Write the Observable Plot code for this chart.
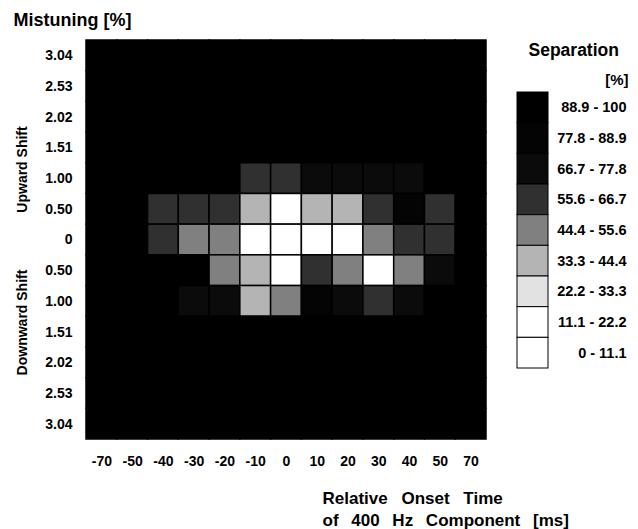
<!DOCTYPE html>
<html>
<head>
<meta charset="utf-8">
<script src="https://cdn.jsdelivr.net/npm/d3@7"></script>
<script src="https://cdn.jsdelivr.net/npm/@observablehq/plot@0.6"></script>
<style>
  html, body { margin: 0; padding: 0; background: #fff; }
  #wrap { position: relative; width: 638px; height: 529px; }
  #legend { position: absolute; left: 500px; top: 0; }
  text { font-family: "Liberation Sans", Arial, Helvetica, sans-serif; }
</style>
</head>
<body>
<div id="wrap"><div id="main"></div><div id="legend"></div></div>
<script>
// Relative onset time of 400 Hz component [ms] (columns)
const onsetTimes = ["-70","-50","-40","-30","-20","-10","0","10","20","30","40","50","70"];
// Mistuning rows, top to bottom (u = upward shift, d = downward shift)
const rowKeys = ["u3.04","u2.53","u2.02","u1.51","u1.00","u0.50","0","d0.50","d1.00","d1.51","d2.02","d2.53","d3.04"];
const rowLabels = ["3.04","2.53","2.02","1.51","1.00","0.50","0","0.50","1.00","1.51","2.02","2.53","3.04"];

// Separation [%] per row, columns in onsetTimes order
const up304 = [95,95,95,95,95,95,95,95,95,95,95,95,95];
const up253 = [95,95,95,95,95,95,95,95,95,95,95,95,95];
const up202 = [95,95,95,95,95,95,95,95,95,95,95,95,95];
const up151 = [95,95,95,95,95,95,95,95,95,95,95,95,95];
const up100 = [95,95,95,95,95,60,60,72,72,72,72,95,95];
const up050 = [95,95,64,58,58,38,12,38,36,60,82,60,95];
const zero  = [95,95,60,48,48, 8, 8,10,15,48,58,60,95];
const dn050 = [95,95,95,95,48,38,12,60,48,15,48,72,95];
const dn100 = [95,95,95,72,72,38,48,82,72,60,72,95,95];
const dn151 = [95,95,95,95,95,95,95,95,95,95,95,95,95];
const dn202 = [95,95,95,95,95,95,95,95,95,95,95,95,95];
const dn253 = [95,95,95,95,95,95,95,95,95,95,95,95,95];
const dn304 = [95,95,95,95,95,95,95,95,95,95,95,95,95];

// Legend classes
const thresholds = [11.1, 22.2, 33.3, 44.4, 55.6, 66.7, 77.8, 88.9];
const classLabels = ["88.9 - 100","77.8 - 88.9","66.7 - 77.8","55.6 - 66.7","44.4 - 55.6","33.3 - 44.4","22.2 - 33.3","11.1 - 22.2","0 - 11.1"];
const classMids = [95, 83, 72, 61, 50, 39, 28, 17, 5];
const greys = ["#ffffff","#ffffff","#e2e2e2","#b4b4b4","#808080","#303030","#0b0b0b","#040404","#000000"];

const rows = [up304, up253, up202, up151, up100, up050, zero, dn050, dn100, dn151, dn202, dn253, dn304];
const cells = [];
rows.forEach((r, i) => r.forEach((v, j) => cells.push({t: onsetTimes[j], m: rowKeys[i], v})));

const font = "'Liberation Sans', Arial, Helvetica, sans-serif";
const colorScale = {type: "threshold", domain: thresholds, range: greys};

const main = Plot.plot({
  width: 638, height: 529,
  marginLeft: 86, marginRight: 152, marginTop: 40, marginBottom: 90,
  style: {background: "#fff", fontFamily: font, fontSize: "14px", fontWeight: "bold", overflow: "visible", color: "#000"},
  x: {domain: onsetTimes, padding: 0, round: false, tickSize: 0, tickPadding: 17, label: null},
  y: {domain: rowKeys, padding: 0, round: false, tickSize: 0, tickPadding: 14, label: null,
      tickFormat: (d) => rowLabels[rowKeys.indexOf(d)]},
  color: colorScale,
  marks: [
    Plot.cell(cells, {x: "t", y: "m", fill: "v", stroke: "#000", strokeWidth: 1.5}),
    Plot.text(["Mistuning [%]"], {frameAnchor: "top-left", dx: -73, dy: -27, textAnchor: "start", fontSize: 18, fontWeight: "bold"}),
    Plot.text(["Upward Shift"], {frameAnchor: "top-left", dx: -64, dy: 129, rotate: -90, textAnchor: "middle", lineAnchor: "middle", fontSize: 14, fontWeight: "bold"}),
    Plot.text(["Downward Shift"], {frameAnchor: "top-left", dx: -64, dy: 282, rotate: -90, textAnchor: "middle", lineAnchor: "middle", fontSize: 14, fontWeight: "bold"}),
    Plot.text(["Relative Onset Time"], {frameAnchor: "bottom-left", dx: 236, dy: 64, textAnchor: "start", fontSize: 17, fontWeight: "bold"}),
    Plot.text(["of 400 Hz Component [ms]"], {frameAnchor: "bottom-left", dx: 236, dy: 86, textAnchor: "start", fontSize: 17, fontWeight: "bold"})
  ]
});
document.getElementById("main").appendChild(main);
// word spacing as in the original typesetting
d3.select(main).selectAll("text").filter(function() { return /Relative/.test(this.textContent); })
  .style("word-spacing", "9px");
d3.select(main).selectAll("text").filter(function() { return /Component/.test(this.textContent); })
  .style("word-spacing", "8px");

const legendData = classLabels.map((label, i) => ({label, v: classMids[i]}));
const legend = Plot.plot({
  width: 138, height: 380,
  marginLeft: 17, marginRight: 90, marginTop: 92, marginBottom: 12,
  style: {background: "transparent", fontFamily: font, fontSize: "14px", fontWeight: "bold", overflow: "visible", color: "#000"},
  x: {domain: ["s"], padding: 0, round: false, axis: null},
  y: {domain: classLabels, padding: 0, round: false, axis: null},
  color: colorScale,
  marks: [
    Plot.cell(legendData, {x: () => "s", y: "label", fill: "v", stroke: "#000", strokeWidth: 1}),
    Plot.text(legendData, {y: "label", text: "label", frameAnchor: "right", dx: 78, textAnchor: "end", fontSize: 14.5, fontWeight: "bold"}),
    Plot.text(["Separation"], {frameAnchor: "top-left", dx: 11, dy: -49, textAnchor: "start", fontSize: 17.5, fontWeight: "bold"}),
    Plot.text(["[%]"], {frameAnchor: "top-right", dx: 80, dy: -18, textAnchor: "end", fontSize: 15, fontWeight: "bold"})
  ]
});
document.getElementById("legend").appendChild(legend);
</script>
</body>
</html>
